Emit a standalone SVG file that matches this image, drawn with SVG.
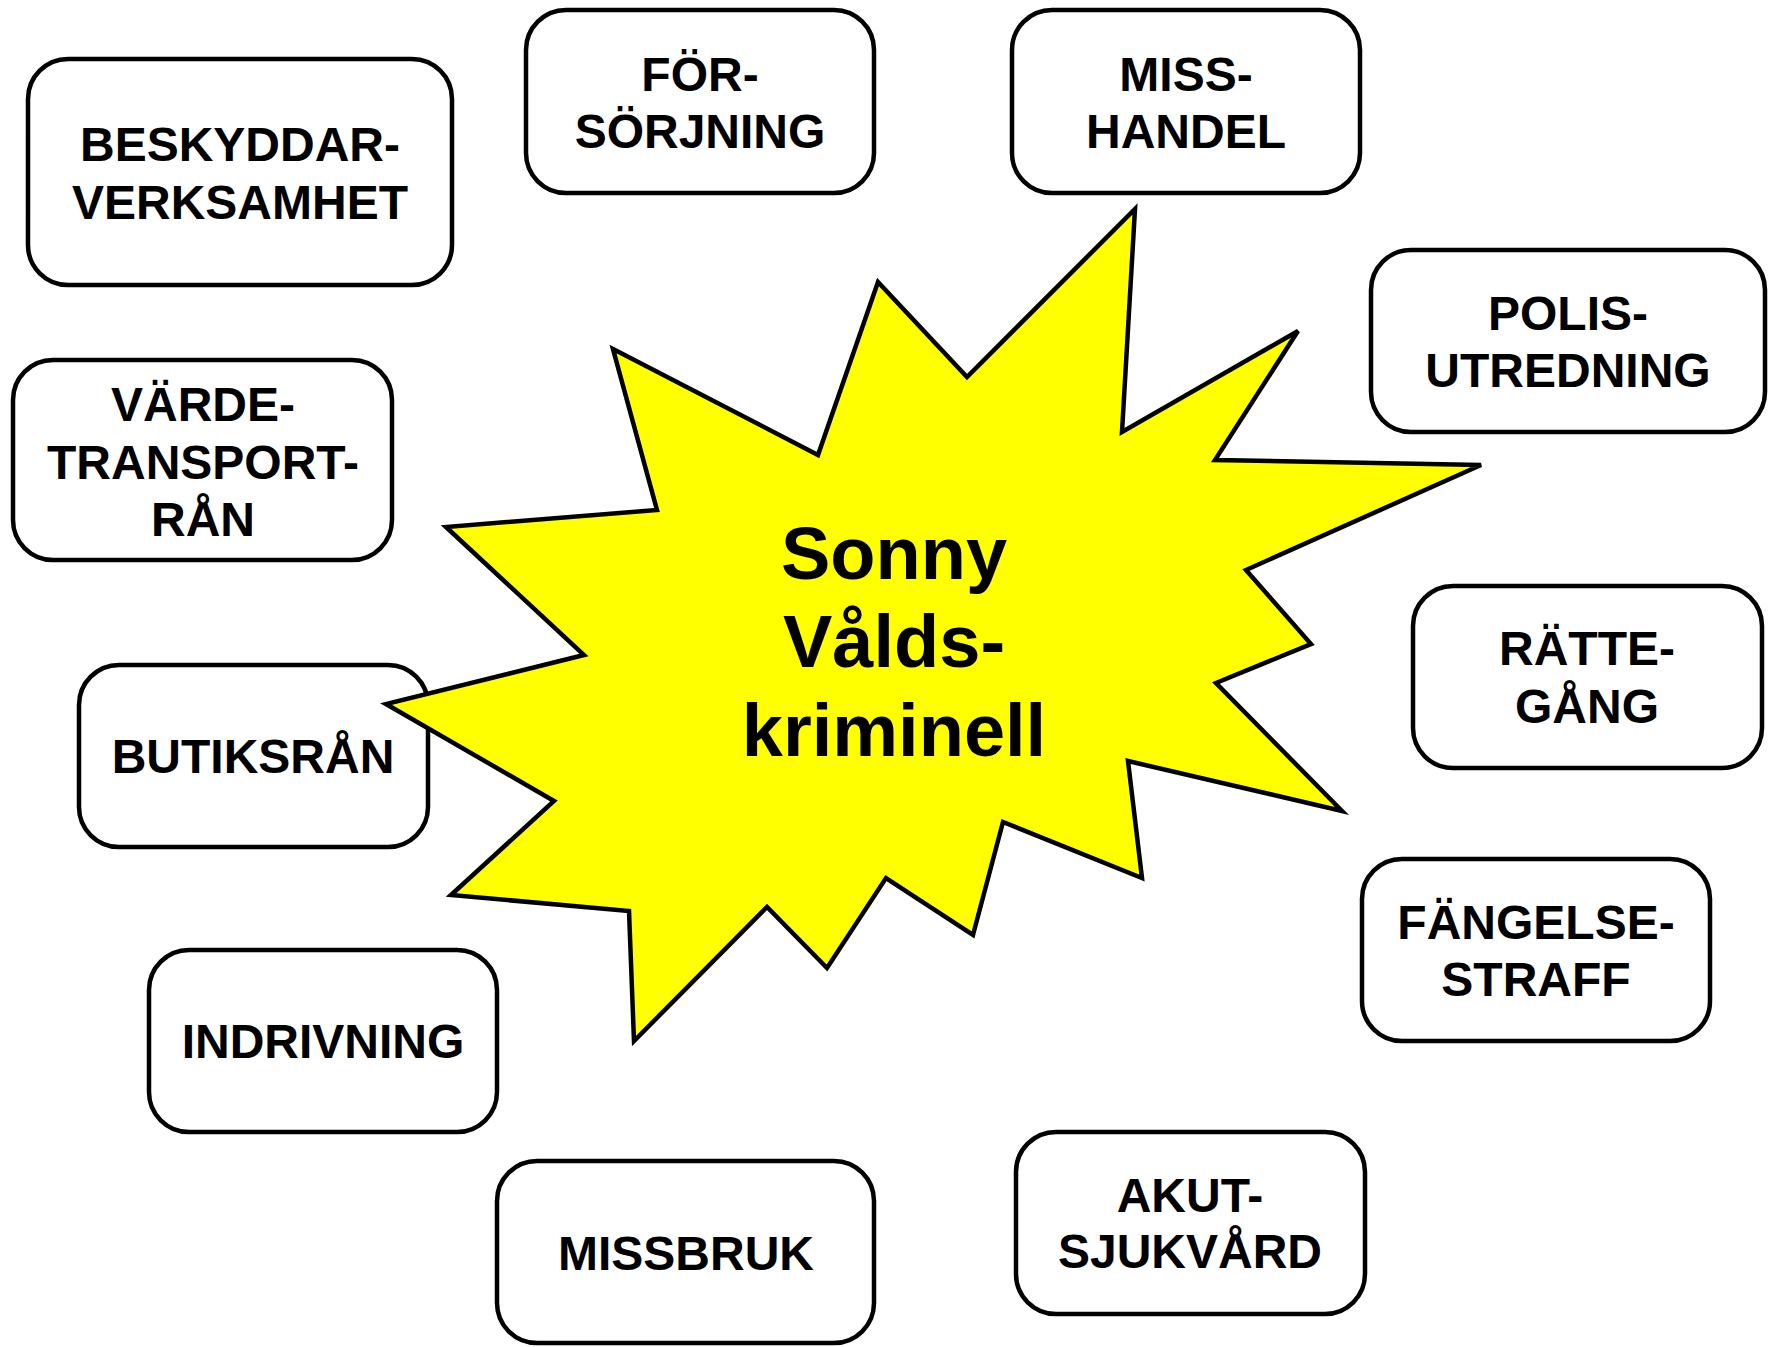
<svg xmlns="http://www.w3.org/2000/svg" width="1768" height="1347" viewBox="0 0 1768 1347">
<style>
.box{fill:#fff;stroke:#000;stroke-width:4.5}
.lbl{font-family:"Liberation Sans",Arial,sans-serif;font-weight:bold;font-size:48px;fill:#000;text-anchor:middle}
.ctr{font-family:"Liberation Sans",Arial,sans-serif;font-weight:bold;font-size:74px;fill:#000;text-anchor:middle}
.star{fill:#ffff00;stroke:#000;stroke-width:4.5;stroke-linejoin:miter}
</style>
<rect width="1768" height="1347" fill="#fff"/>
<g id="beskyddar"><rect class="box" x="28" y="59" width="424" height="226" rx="40"/><text class="lbl" x="240" y="161">BESKYDDAR-</text><text class="lbl" x="240" y="219">VERKSAMHET</text></g>
<g id="forsorjning"><rect class="box" x="526" y="10" width="348" height="183" rx="40"/><text class="lbl" x="700" y="91">FÖR-</text><text class="lbl" x="700" y="148">SÖRJNING</text></g>
<g id="misshandel"><rect class="box" x="1012" y="10" width="348" height="183" rx="40"/><text class="lbl" x="1186" y="91">MISS-</text><text class="lbl" x="1186" y="148">HANDEL</text></g>
<g id="polis"><rect class="box" x="1371" y="250" width="394" height="182" rx="40"/><text class="lbl" x="1568" y="330">POLIS-</text><text class="lbl" x="1568" y="387">UTREDNING</text></g>
<g id="rattegang"><rect class="box" x="1413" y="586" width="349" height="182" rx="40"/><text class="lbl" x="1587" y="665">RÄTTE-</text><text class="lbl" x="1587" y="723">GÅNG</text></g>
<g id="fangelse"><rect class="box" x="1362" y="859" width="348" height="182" rx="40"/><text class="lbl" x="1536" y="939">FÄNGELSE-</text><text class="lbl" x="1536" y="996">STRAFF</text></g>
<g id="akut"><rect class="box" x="1016" y="1132" width="349" height="182" rx="40"/><text class="lbl" x="1190" y="1212">AKUT-</text><text class="lbl" x="1190" y="1268">SJUKVÅRD</text></g>
<g id="missbruk"><rect class="box" x="497" y="1161" width="377" height="182" rx="40"/><text class="lbl" x="686" y="1270">MISSBRUK</text></g>
<g id="indrivning"><rect class="box" x="149" y="950" width="348" height="182" rx="40"/><text class="lbl" x="323" y="1058">INDRIVNING</text></g>
<g id="vardetransport"><rect class="box" x="13" y="360" width="379" height="200" rx="40"/><text class="lbl" x="203" y="421">VÄRDE-</text><text class="lbl" x="203" y="479">TRANSPORT-</text><text class="lbl" x="203" y="536">RÅN</text></g>
<g id="butiksran"><rect class="box" x="79" y="665" width="349" height="182" rx="40"/><text class="lbl" x="253" y="773">BUTIKSRÅN</text></g>
<g id="sonny">
<polygon class="star" points="613,349 818,455 878,282 967,377 1135,209 1122,432 1298,331 1215,460 1481,465 1246,570 1311,644 1216,683 1342,811 1128,761 1142,878 1003,822 973,935 886,878 827,968 767,907 634,1041 629,911 451,895 554,801 386,704 584,655 446,527 657,510"/>
<text class="ctr" x="894" y="579">Sonny</text>
<text class="ctr" x="894" y="667">Vålds-</text>
<text class="ctr" x="894" y="756">kriminell</text>
</g>
<g id="connectors"/>
</svg>
